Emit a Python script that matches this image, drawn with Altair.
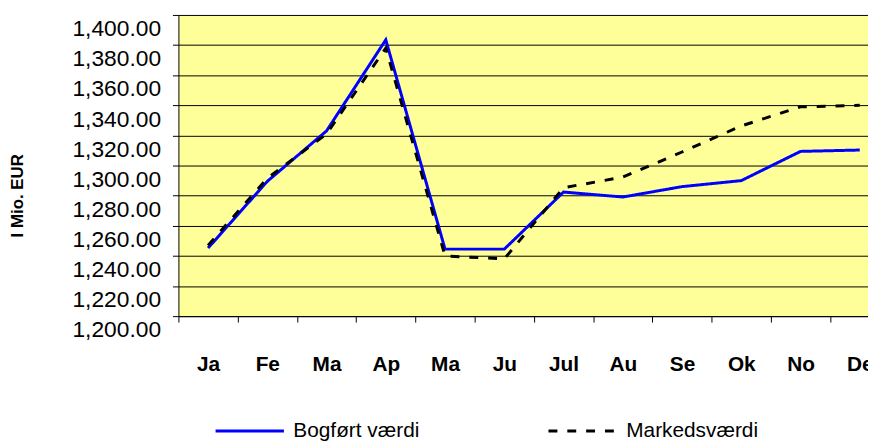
import altair as alt
import pandas as pd

months = ["Ja", "Fe", "Ma", "Ap", "Ma", "Ju", "Jul", "Au", "Se", "Ok", "No", "De"]
bogfort = [1245.2, 1289.5, 1323.0, 1383.5, 1244.5, 1244.5, 1282.4, 1279.1, 1286.0, 1290.0, 1309.4, 1310.3]
marked = [1247.0, 1291.5, 1321.0, 1378.0, 1240.0, 1238.0, 1285.3, 1292.3, 1309.0, 1326.3, 1339.0, 1340.0]
series = ["Bogført værdi", "Markedsværdi"]
y_ticks = list(range(1200, 1401, 20))

rows = []
for i, v in enumerate(bogfort):
    rows.append({"m": i, "v": v, "s": series[0]})
for i, v in enumerate(marked):
    rows.append({"m": i, "v": v, "s": series[1]})
df = pd.DataFrame(rows)

label_expr = "[" + ",".join("'" + m + "'" for m in months) + "][datum.value]"
FONT = "Liberation Sans"

legend = alt.Legend(
    title=None, orient="none", legendX=36, legendY=384, direction="horizontal",
    symbolType="stroke", symbolSize=4761, symbolStrokeWidth=3,
    labelFont=FONT, labelFontSize=21, labelColor="black", labelOffset=8,
    columnPadding=123, padding=0, labelLimit=0,
)

chart = alt.Chart(df).mark_line(strokeWidth=3, clip=True).encode(
    x=alt.X(
        "m:O",
        scale=alt.Scale(range=[0, 717.6], paddingInner=0, paddingOuter=0),
        axis=alt.Axis(
            title=None, labelExpr=label_expr, labelAngle=0, labelFont=FONT,
            labelFontSize=21, labelFontWeight="bold", labelColor="black",
            labelBaseline="middle", labelPadding=43, tickBand="extent",
            tickSize=6, tickColor="black", domainColor="black", grid=False,
            labelOverlap=False,
        ),
    ),
    y=alt.Y(
        "v:Q",
        scale=alt.Scale(domain=[1200, 1400], nice=False, zero=False),
        axis=alt.Axis(
            title="I Mio. EUR", values=y_ticks, format=",.2f",
            labelFont=FONT, labelFontSize=23, labelColor="black",
            labelPadding=12, labelOffset=14, tickSize=6, tickColor="black",
            domainColor="black", gridColor="black", gridWidth=1, gridOpacity=1,
            labelFlush=False, labelOverlap=False,
            titleFont=FONT, titleFontSize=17, titleFontWeight="bold", titleColor="black",
            titleX=-162.5, titleY=182, titleAngle=270, titleBaseline="middle",
            titleAlign="center",
        ),
    ),
    color=alt.Color("s:N", scale=alt.Scale(domain=series, range=["#0000FF", "#000000"]), legend=legend),
    strokeDash=alt.StrokeDash("s:N", scale=alt.Scale(domain=series, range=[[1, 0], [9, 10]]), legend=legend),
).properties(
    width=696, height=304,
    background="white",
    autosize=alt.AutoSizeParams(type="none"),
    padding={"left": 172, "top": 5, "right": 0, "bottom": 124},
).configure_view(
    fill="#FFFF99", stroke="transparent"
)

chart.save("out.html", embed_options={"renderer": "svg", "actions": False})
